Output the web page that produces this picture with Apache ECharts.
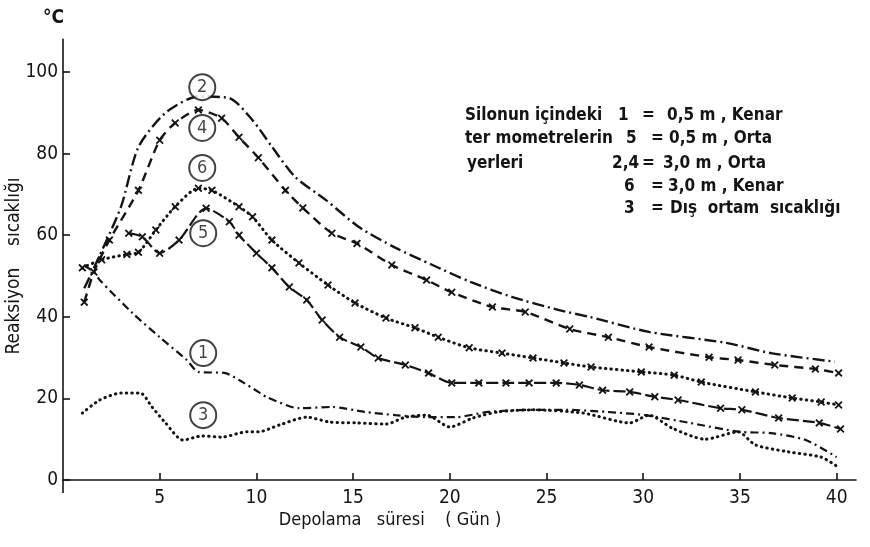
<!DOCTYPE html>
<html>
<head>
<meta charset="utf-8">
<title>Reaksiyon sıcaklığı</title>
<script src="https://cdn.jsdelivr.net/npm/echarts@6/dist/echarts.min.js"></script>
<style>
html, body {
  margin: 0;
  padding: 0;
  background: #fff;
}
#chart {
  width: 870px;
  height: 547px;
}
</style>
</head>
<body>
<div id="chart"></div>
<script>
// tick labels
const xTicks = [5, 10, 15, 20, 25, 30, 35, 40]
const yTicks = [0, 20, 40, 60, 80, 100]

// 1 = 0,5 m, Kenar
const days1 = [1.1, 1.6, 1.9, 3.6, 5.0, 6.4, 7.0, 8.4, 9.1, 10.2, 10.5, 12.2, 13.9, 15.6, 17.2, 18.8, 20.3, 22.0, 24.3, 26.0, 28.1, 30.1, 32.4, 35.0, 36.6, 38.4, 40.0]
const temp1 = [52.5, 51, 49, 40.9, 35, 29.4, 26.5, 26.2, 24.5, 21.3, 20.4, 17.6, 17.9, 16.7, 15.9, 15.4, 15.4, 16.7, 17.2, 17.2, 16.7, 15.9, 14, 11.8, 11.5, 9.8, 5.6]

// 2 = 3,0 m, Orta
const days2 = [1.1, 1.7, 3.0, 3.9, 5.3, 7.0, 8.6, 9.8, 10.8, 12.0, 13.6, 15.3, 17.2, 19.1, 21.1, 23.2, 25.6, 27.2, 30.3, 34.3, 36.6, 39.9]
const temp2 = [47, 53, 67, 81.6, 90, 94, 93.6, 88.2, 81.7, 74.3, 68.6, 62, 56.9, 52.7, 48.5, 44.9, 41.7, 40, 36.3, 33.6, 31.1, 29]

// 3 = Dış ortam sıcaklığı
const days3 = [1.0, 1.9, 3.0, 4.0, 4.6, 5.3, 6.2, 7.2, 8.2, 9.5, 10.1, 11.2, 12.6, 13.8, 15.2, 16.7, 17.7, 18.8, 20.0, 21.2, 22.5, 24.3, 26.9, 29.3, 30.3, 31.5, 33.2, 34.9, 35.8, 37.5, 39.2, 40.0]
const temp3 = [16.4, 19.6, 21.3, 21.3, 17.9, 14, 9.8, 10.8, 10.5, 11.8, 11.8, 13.5, 15.4, 14.2, 14, 13.7, 15.4, 15.9, 13, 15.2, 16.7, 17.2, 16.4, 14, 15.9, 12.7, 10, 11.8, 8.6, 6.9, 5.6, 3.4]

// 4 = 3,0 m, Orta
const days4 = [1.1, 1.6, 2.4, 3.9, 5.0, 5.8, 7.0, 8.2, 9.1, 10.1, 11.5, 12.4, 13.9, 15.2, 17.0, 18.8, 20.1, 22.2, 23.9, 26.2, 28.2, 30.3, 33.4, 34.9, 36.8, 38.9, 40.1]
const temp4 = [43.6, 51, 58.8, 71, 83.3, 87.5, 90.7, 88.7, 84, 79, 71, 66.7, 60.5, 58, 52.7, 49, 46, 42.4, 41.2, 37, 35, 32.6, 30.1, 29.4, 28.2, 27.2, 26.2]

// 5 = 0,5 m, Orta
const days5 = [3.4, 4.1, 5.0, 6.0, 7.4, 8.6, 9.1, 10.0, 10.8, 11.7, 12.6, 13.4, 14.3, 15.4, 16.3, 17.7, 18.9, 20.1, 21.5, 22.9, 24.1, 25.5, 26.7, 27.9, 29.3, 30.6, 31.8, 34.0, 35.1, 37.0, 39.1, 40.2]
const temp5 = [60.5, 59.6, 55.6, 58.8, 66.6, 63.3, 60, 55.6, 52, 47.3, 44.1, 39.2, 35, 32.6, 29.9, 28.2, 26.2, 23.8, 23.8, 23.8, 23.8, 23.8, 23.3, 22, 21.6, 20.4, 19.6, 17.6, 17.2, 15.2, 14, 12.5]

// 6 = 3,0 m, Kenar
const days6 = [1.0, 2.0, 3.3, 3.9, 4.8, 5.8, 7.0, 7.7, 9.1, 9.8, 10.8, 12.2, 13.7, 15.1, 16.7, 18.2, 19.4, 21.0, 22.7, 24.3, 25.9, 27.3, 29.9, 31.6, 33.0, 35.8, 37.7, 39.2, 40.1]
const temp6 = [52, 54, 55.3, 55.8, 61.3, 67, 71.5, 71, 67, 64.5, 58.8, 53.2, 47.8, 43.4, 39.7, 37.3, 35, 32.4, 31.1, 29.9, 28.7, 27.7, 26.5, 25.7, 24, 21.6, 20.1, 19.1, 18.4]

// circled curve numbers
const tagNames = ['2', '4', '6', '5', '1', '3']
const tagDays = [7.2, 7.2, 7.2, 7.25, 7.25, 7.25]
const tagTemps = [96.3, 86.3, 76.5, 60.5, 31.1, 15.9]

const ink = '#141414'
const font = '"DejaVu Sans Condensed", "Liberation Sans Narrow", "DejaVu Sans", sans-serif'
const cross = 'path://M0,1.6 L1.6,0 L5,3.4 L8.4,0 L10,1.6 L6.6,5 L10,8.4 L8.4,10 L5,6.6 L1.6,10 L0,8.4 L3.4,5 Z'

function pairs (xs, ys) {
  return xs.map((x, i) => [x, ys[i]])
}

function curve (name, xs, ys, dash, width, marked, round) {
  return {
    name: name,
    type: 'line',
    data: pairs(xs, ys),
    smooth: 0.25,
    symbol: marked ? cross : 'none',
    showSymbol: marked,
    symbolSize: 8,
    itemStyle: { color: ink },
    lineStyle: {
      color: ink,
      width: width,
      type: dash,
      cap: round ? 'round' : 'butt'
    },
    silent: true
  }
}

function legendText (x, y, text) {
  return {
    type: 'text',
    left: x,
    top: y - 10,
    style: { text: text, font: 'bold 17px ' + font, fill: ink }
  }
}

const chart = echarts.init(document.getElementById('chart'))

const option = {
  animation: false,
  backgroundColor: '#fff',
  grid: {
    left: 63,
    right: 14,
    top: 39.4,
    bottom: 67
  },
  xAxis: {
    type: 'value',
    min: 0,
    max: 41,
    axisLine: { show: true, lineStyle: { color: ink, width: 1.6 } },
    axisTick: { show: true, inside: true, length: 7, customValues: xTicks, lineStyle: { color: ink, width: 1.6 } },
    axisLabel: { customValues: xTicks, color: ink, fontSize: 19, fontFamily: font, margin: 9 },
    splitLine: { show: false }
  },
  yAxis: {
    type: 'value',
    min: 0,
    max: 108,
    axisLine: { show: true, lineStyle: { color: ink, width: 1.6 } },
    axisTick: { show: true, inside: true, length: 7, customValues: yTicks, lineStyle: { color: ink, width: 1.6 } },
    axisLabel: { customValues: yTicks, color: ink, fontSize: 19, fontFamily: font, margin: 5 },
    splitLine: { show: false }
  },
  graphic: [
    // y axis runs a little below zero in the original drawing
    {
      type: 'line',
      shape: { x1: 63, y1: 480, x2: 63, y2: 493 },
      style: { stroke: ink, lineWidth: 1.6 }
    },
    {
      type: 'text',
      left: 43,
      top: 9,
      style: { text: '°C', font: 'bold 19px ' + font, fill: ink }
    },
    {
      type: 'text',
      x: 14,
      y: 266,
      rotation: Math.PI / 2,
      style: {
        text: 'Reaksiyon    sıcaklığı',
        font: '19px ' + font,
        fill: ink,
        align: 'center',
        verticalAlign: 'middle'
      }
    },
    {
      type: 'text',
      x: 390,
      y: 520,
      style: {
        text: 'Depolama   süresi    ( Gün )',
        font: '18px ' + font,
        fill: ink,
        align: 'center',
        verticalAlign: 'middle'
      }
    },
    legendText(465, 117, 'Silonun içindeki'),
    legendText(618, 117, '1'),
    legendText(642, 117, '='),
    legendText(667, 117, '0,5 m , Kenar'),
    legendText(465, 140, 'ter mometrelerin'),
    legendText(626, 140, '5'),
    legendText(651, 140, '='),
    legendText(669, 140, '0,5 m , Orta'),
    legendText(467, 165, 'yerleri'),
    legendText(612, 165, '2,4'),
    legendText(642, 165, '='),
    legendText(663, 165, '3,0 m , Orta'),
    legendText(624, 188, '6'),
    legendText(651, 188, '='),
    legendText(668, 188, '3,0 m , Kenar'),
    legendText(624, 210, '3'),
    legendText(651, 210, '='),
    legendText(670, 210, 'Dış  ortam  sıcaklığı')
  ],
  series: [
    curve('1', days1, temp1, [8, 4, 2, 4], 2.2, false, false),
    curve('2', days2, temp2, [12, 4, 2, 4], 2.4, false, false),
    curve('3', days3, temp3, [0.5, 5], 3, false, true),
    curve('4', days4, temp4, [9, 6], 2.4, true, false),
    curve('5', days5, temp5, [12, 4], 2.2, true, false),
    curve('6', days6, temp6, [0.5, 5], 3, true, true),
    {
      name: 'tags',
      type: 'scatter',
      symbol: 'emptyCircle',
      symbolSize: 26,
      z: 5,
      silent: true,
      itemStyle: { color: ink, borderWidth: 1.8 },
      label: {
        show: true,
        position: 'inside',
        formatter: p => p.name,
        color: ink,
        fontSize: 18,
        fontFamily: font
      },
      data: tagNames.map((n, i) => ({ name: n, value: [tagDays[i], tagTemps[i]] }))
    }
  ]
}

chart.setOption(option)
</script>
</body>
</html>
